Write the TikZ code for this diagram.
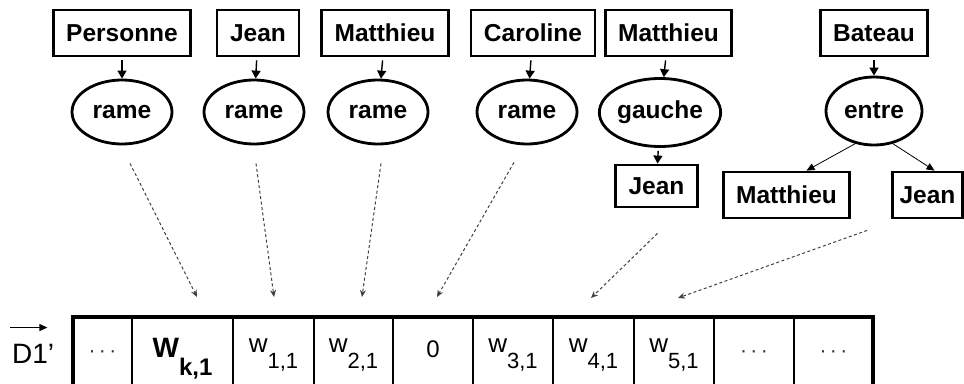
\documentclass[tikz,border=0pt]{standalone}
\usepackage{fontspec}
\setmainfont{Liberation Sans}
\usetikzlibrary{positioning,arrows.meta,shapes.geometric}
\tikzset{
    word-box/.style = {draw, line width=2.8pt, rectangle, inner xsep=13pt, inner ysep=0pt, minimum height=46pt, font=\fontsize{24.5}{24.5}\selectfont\bfseries},
    word-ellipse/.style = {draw, line width=2.8pt, ellipse, inner sep=0pt, minimum width=100pt, minimum height=64pt, font=\fontsize{24.5}{24.5}\selectfont\bfseries},
    link/.style = {line width=1.4pt, -{Triangle[length=8pt,width=9pt]}, shorten <=3pt},
    branch/.style = {line width=0.8pt, -{Triangle[length=8pt,width=7pt]}},
    projection/.style = {draw=black!75, line width=1pt, dash pattern=on 3pt off 2.5pt, -{Stealth[length=7pt,width=6pt]}},
    cell/.style = {draw, line width=1.2pt, rectangle, minimum height=70pt, inner sep=0pt, outer sep=0pt, text height=20pt, text depth=10pt, font=\fontsize{24}{24}\selectfont},
}
\newcommand{\wsub}[1]{\raisebox{5pt}{\fontsize{26}{26}\selectfont w}\raisebox{-11pt}{\fontsize{22}{22}\selectfont #1}}
\newcommand{\celldots}{{\color{black!80}\fontsize{21}{21}\selectfont\textperiodcentered\hspace{3.5pt}\textperiodcentered\hspace{3.5pt}\textperiodcentered}}

\begin{document}
\begin{tikzpicture}[x=1pt, y=-1pt]
\path[use as bounding box, clip] (0,0) rectangle (964,383);

\node[word-box] (b1) at (122,33) {Personne};
\node[word-box] (b2) at (258,33) {Jean};
\node[word-box] (b3) at (385,33) {Matthieu};
\node[word-box] (b4) at (533,33) {Caroline};
\node[word-box] (b5) at (668.5,33) {Matthieu};
\node[word-box] (b6) at (874,33) {Bateau};

\node[word-ellipse] (e1) at (122,112) {rame};
\node[word-ellipse] (e2) at (254,112) {rame};
\node[word-ellipse] (e3) at (378,112) {rame};
\node[word-ellipse] (e4) at (527,112) {rame};
\node[word-ellipse, minimum width=110pt, minimum height=68pt] (e5) at (660,112.5) {gauche};
\node[word-ellipse, minimum width=96pt, minimum height=68pt] (e6) at (874,111) {entre};

\node[word-box, minimum height=42pt] (j1) at (656.5,186) {Jean};
\node[word-box] (m2) at (786.5,195) {Matthieu};
\node[word-box, inner xsep=7pt] (j2) at (927.5,195) {Jean};

\foreach \i in {1,...,6}
    \draw[link] (b\i) -- (e\i);
\draw[link] (e5) -- (j1);
\draw[branch] (e6.-120) -- ([shift={(20,0)}]m2.north);
\draw[branch] (e6.-60) -- ([shift={(7,0)}]j2.north);

\node[anchor=base west, inner sep=0pt, font=\fontsize{28}{28}\selectfont] (d1) at (12,363) {D1'};
\draw[line width=1.2pt, -{Triangle[length=8pt,width=7pt]}] ([shift={(-2,-16)}]d1.north west) -- ([shift={(-7,-16)}]d1.north east);

\node[cell, minimum width=59pt, anchor=west] (c0) at (73,352) {\celldots};
\node[cell, minimum width=101pt, right=0pt of c0] (c1) {{\fontsize{28}{28}\selectfont\bfseries W}\raisebox{-18pt}{\fontsize{24}{24}\selectfont\bfseries k,1}};
\node[cell, minimum width=81pt, right=0pt of c1] (c2) {\wsub{1,1}};
\node[cell, minimum width=79pt, right=0pt of c2] (c3) {\wsub{2,1}};
\node[cell, minimum width=80pt, right=0pt of c3] (c4) {0};
\node[cell, minimum width=80pt, right=0pt of c4] (c5) {\wsub{3,1}};
\node[cell, minimum width=81pt, right=0pt of c5] (c6) {\wsub{4,1}};
\node[cell, minimum width=80pt, right=0pt of c6] (c7) {\wsub{5,1}};
\node[cell, minimum width=80pt, right=0pt of c7] (c8) {\celldots};
\node[cell, minimum width=79pt, right=0pt of c8] (c9) {\celldots};
\draw[line width=3.6pt] (c0.north west) rectangle (c9.south east);

\draw[projection] ([shift={(8,18)}]e1.south) -- ([shift={(14.5,-20)}]c1.north);
\draw[projection] ([shift={(2,18)}]e2.south) -- ([shift={(0.5,-20)}]c2.north);
\draw[projection] ([shift={(3,18)}]e3.south) -- ([shift={(8.5,-20)}]c3.north);
\draw[projection] ([shift={(-13,17)}]e4.south) -- ([shift={(4,-20)}]c4.north);
\draw[projection] ([shift={(1,25)}]j1.south) -- ([shift={(-2.5,-19)}]c6.north);
\draw[projection] ([shift={(-24,11)}]j2.south west) -- ([shift={(4,-19)}]c7.north);
\end{tikzpicture}
\end{document}
